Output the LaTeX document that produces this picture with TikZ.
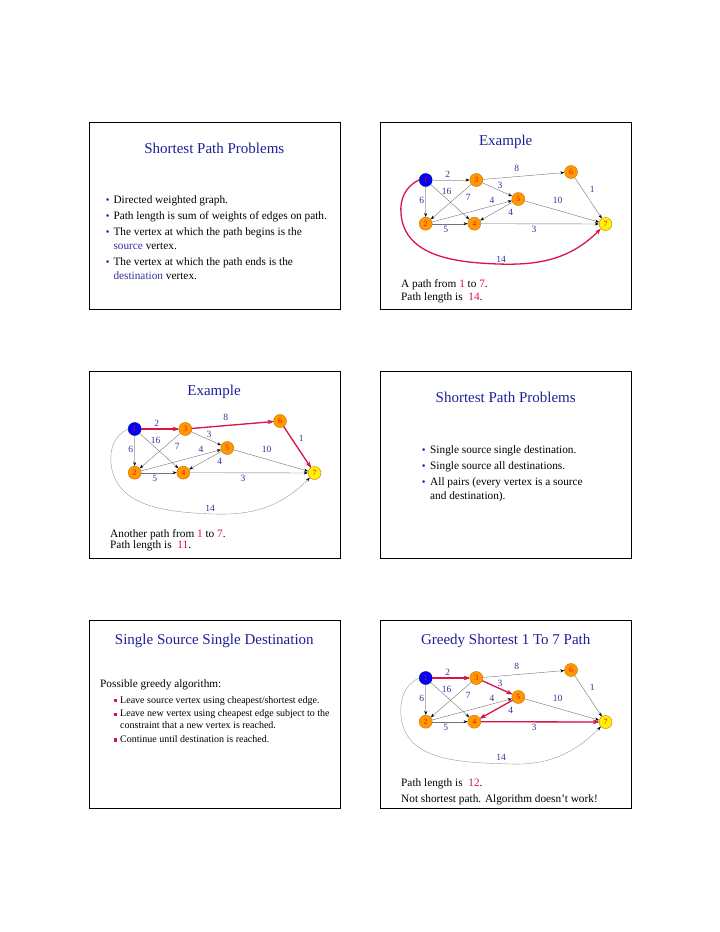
\documentclass[tikz,border=0pt]{standalone}
\usepackage{fontspec}
\setmainfont{Liberation Serif}
\usetikzlibrary{arrows.meta}

\definecolor{navyc}{RGB}{30,30,150}
\definecolor{labc}{RGB}{51,51,153}
\definecolor{hotc}{RGB}{220,20,70}
\definecolor{orng}{RGB}{255,153,0}
\definecolor{orngdk}{RGB}{200,110,0}

\tikzset{
	frame/.style={draw=black, line width=1pt},
	ttl/.style={font=\fontsize{15}{18}\selectfont, text=navyc},
	txt/.style={font=\fontsize{11.3}{13}\selectfont, anchor=west, inner sep=0pt, text height=.7em, text depth=.2em},
	subtxt/.style={font=\fontsize{10}{12}\selectfont, anchor=west, inner sep=0pt, text height=.7em, text depth=.2em},
	bul/.style={font=\fontsize{10.5}{12}\selectfont, text=navyc, anchor=west, inner sep=0pt},
	sq/.style={fill=hotc, inner sep=0pt, minimum size=3.4pt},
	vtx/.style={circle, draw=orngdk, fill=orng, inner sep=0pt, minimum size=13pt, text=red, font=\fontsize{8}{8}\selectfont},
	srcv/.style={vtx, draw=blue!50!black, fill=blue},
	dstv/.style={vtx, draw=orngdk, fill=yellow},
	link/.style={-{Stealth[length=4pt,width=3pt,black]}, draw=gray!90!black, line width=.4pt},
	widelink/.style={link, draw=gray!55, line width=1pt},
	wt/.style={font=\fontsize{9.5}{10}\selectfont, text=labc, inner sep=0pt},
	hot/.style={-{Stealth[length=6pt,width=4.5pt]}, draw=hotc, line width=1.3pt},
	longway/.style={link, draw=gray!80}
}

% graph used on the example slides
\newcommand{\examplegraph}{%
	\node[srcv] (v1) at (45.7,-58) {1};
	\node[vtx] (v3) at (96.3,-58) {3};
	\node[vtx] (v6) at (191,-50) {6};
	\node[vtx] (v5) at (138.3,-77) {5};
	\node[vtx] (v2) at (45.7,-101.7) {2};
	\node[vtx] (v4) at (94.3,-101.7) {4};
	\node[dstv] (v7) at (225.5,-102) {7};
	
	\draw[widelink] (v1) -- (v3);
	\draw[widelink] (v1) -- (v2);
	\draw[link] (v1) -- (v4);
	\draw[link] (v3) -- (v2);
	\draw[link] (v3) -- (v5);
	\draw[link] (v3) -- (v6);
	\draw[link] (v2) -- (v5);
	\draw[link] (v2) -- (v4);
	\draw[link] (v5) -- (v4);
	\draw[link] (v5) -- (v7);
	\draw[link] (v4) -- (v7);
	\draw[link] (v6) -- (v7);
	
	\node[wt] (w13) at (67.7,-52) {2};
	\node[wt] (w36) at (136.7,-46.3) {8};
	\node[wt] (w35) at (120,-63) {3};
	\node[wt] (w67) at (212.3,-67.3) {1};
	\node[wt] (w14) at (66.7,-69.7) {16};
	\node[wt] (w32) at (88.3,-75.7) {7};
	\node[wt] (w12) at (41.7,-78) {6};
	\node[wt] (w25) at (112,-78) {4};
	\node[wt] (w57) at (177.7,-78) {10};
	\node[wt] (w54) at (130.7,-90.7) {4};
	\node[wt] (w24) at (65.7,-107.3) {5};
	\node[wt] (w47) at (154,-107.3) {3};
	\node[wt] (w17) at (121,-137) {14};
}

\begin{document}
\begin{tikzpicture}[x=1pt, y=1pt]
	%\draw[help lines] (0,0) grid (720,-932);
	\useasboundingbox (0,0) rectangle (720,-932);
	
	% slide 1
	\begin{scope}[shift={(89,-122)}]
		\draw[frame] (0,0) rectangle (251,-187);
		\node[ttl] (t1) at (125.3,-26.3) {Shortest Path Problems};
		\node[bul] (d1) at (16.7,-79) {\textbullet};
		\node[txt] (l1) at (24.3,-79) {Directed weighted graph.};
		\node[bul] (d2) at (16.7,-94.7) {\textbullet};
		\node[txt] (l2) at (24.3,-94.7) {Path length is sum of weights of edges on path.};
		\node[bul] (d3) at (16.7,-111.3) {\textbullet};
		\node[txt] (l3) at (24.3,-111.3) {The vertex at which the path begins is the};
		\node[txt] (l4) at (24.3,-124.7) {\textcolor{labc}{source} vertex.};
		\node[bul] (d4) at (16.7,-140.7) {\textbullet};
		\node[txt] (l5) at (24.3,-140.7) {The vertex at which the path ends is the};
		\node[txt] (l6) at (24.3,-154.7) {\textcolor{labc}{destination} vertex.};
	\end{scope}
	
	% slide 2
	\begin{scope}[shift={(380,-122)}]
		\draw[frame] (0,0) rectangle (251,-187);
		\node[ttl] (t2) at (125.7,-20) {Example};
		\examplegraph
		\draw[hot] (v1.west) to[out=205,in=95] (21,-92) to[out=-85,in=178] (118,-142) to[out=-2,in=225] (v7.south west);
		\node[txt] (p1) at (21,-163) {A path from \textcolor{hotc}{1} to \textcolor{hotc}{7}.};
		\node[txt] (p2) at (21,-175.7) {Path length is \ \textcolor{hotc}{14}.};
	\end{scope}
	
	% slide 3
	\begin{scope}[shift={(89,-371)}]
		\draw[frame] (0,0) rectangle (251,-187);
		\node[ttl] (t3) at (125,-20.7) {Example};
		\examplegraph
		\draw[longway] (v1.west) to[out=205,in=95] (22,-92) to[out=-85,in=178] (125,-143) to[out=-2,in=225] (v7.south west);
		\draw[hot] (v1) -- (v3);
		\draw[hot] (v3) -- (v6);
		\draw[hot] (v6) -- (v7);
		\node[txt] (p3) at (21,-164) {Another path from \textcolor{hotc}{1} to \textcolor{hotc}{7}.};
		\node[txt] (p4) at (21,-174.7) {Path length is \ \textcolor{hotc}{11}.};
	\end{scope}
	
	% slide 4
	\begin{scope}[shift={(380,-371)}]
		\draw[frame] (0,0) rectangle (251,-187);
		\node[ttl] (t4) at (125.7,-26.3) {Shortest Path Problems};
		\node[bul] (e1) at (41.7,-80) {\textbullet};
		\node[txt] (m1) at (50,-80) {Single source single destination.};
		\node[bul] (e2) at (41.7,-96.3) {\textbullet};
		\node[txt] (m2) at (50,-96.3) {Single source all destinations.};
		\node[bul] (e3) at (41.7,-111.7) {\textbullet};
		\node[txt] (m3) at (50,-111.7) {All pairs (every vertex is a source};
		\node[txt] (m4) at (50,-125.7) {and destination).};
	\end{scope}
	
	% slide 5
	\begin{scope}[shift={(89,-620)}]
		\draw[frame] (0,0) rectangle (251,-188);
		\node[ttl] (t5) at (125.3,-21) {Single Source Single Destination};
		\node[txt] (g0) at (11,-65) {Possible greedy algorithm:};
		\node[sq] (s1) at (26.5,-80.7) {};
		\node[subtxt] (g1) at (31,-80.7) {Leave source vertex using cheapest/shortest edge.};
		\node[sq] (s2) at (26.5,-94.3) {};
		\node[subtxt] (g2) at (31,-94.3) {Leave new vertex using cheapest edge subject to the};
		\node[subtxt] (g3) at (31,-106) {constraint that a new vertex is reached.};
		\node[sq] (s3) at (26.5,-120) {};
		\node[subtxt] (g4) at (31,-120) {Continue until destination is reached.};
	\end{scope}
	
	% slide 6
	\begin{scope}[shift={(380,-620)}]
		\draw[frame] (0,0) rectangle (251,-188);
		\node[ttl] (t6) at (125.7,-21) {Greedy Shortest 1 To 7 Path};
		\examplegraph
		\draw[longway] (v1.west) to[out=205,in=95] (21,-96) to[out=-85,in=178] (130,-144) to[out=-2,in=225] (v7.south west);
		\draw[hot] (v1) -- (v3);
		\draw[hot] (v3) -- (v5);
		\draw[hot] (v5) -- (v4);
		\draw[hot] (v4) -- (v7);
		\node[txt] (p5) at (21,-164) {Path length is \ \textcolor{hotc}{12}.};
		\node[txt] (p6) at (21,-180) {Not shortest path. Algorithm doesn’t work!};
	\end{scope}
\end{tikzpicture}
\end{document}
